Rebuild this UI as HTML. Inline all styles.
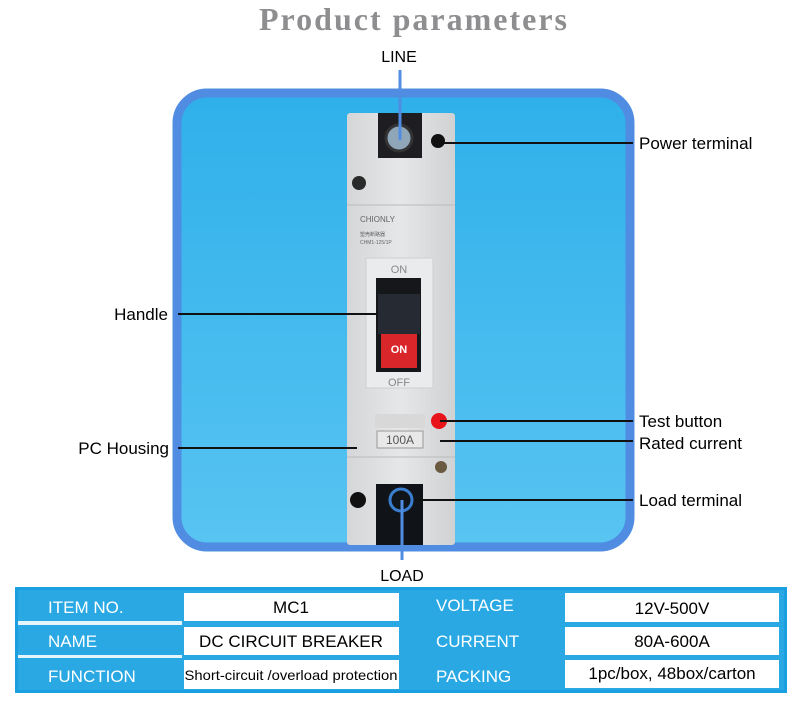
<!DOCTYPE html>
<html><head><meta charset="utf-8"><style>
body{margin:0;background:#fff;width:800px;height:696px;overflow:hidden;font-family:"Liberation Sans",sans-serif}
</style></head><body>
<svg width="800" height="696" viewBox="0 0 800 696" xmlns="http://www.w3.org/2000/svg" font-family="Liberation Sans, sans-serif">
<defs>
<linearGradient id="bg" x1="0" y1="0" x2="0" y2="1"><stop offset="0" stop-color="#2fb0ea"/><stop offset="1" stop-color="#58c4f2"/></linearGradient>
<linearGradient id="body" x1="0" y1="0" x2="1" y2="0"><stop offset="0" stop-color="#d4d6d8"/><stop offset="0.5" stop-color="#e6e7e8"/><stop offset="1" stop-color="#cfd1d3"/></linearGradient>
</defs>
<text x="414" y="30" text-anchor="middle" font-family="Liberation Serif, serif" font-weight="bold" font-size="32" fill="#8e8e90" letter-spacing="2">Product parameters</text>
<text x="399" y="62" text-anchor="middle" font-size="16" fill="#000">LINE</text>
<rect x="177" y="93" width="453" height="454" rx="30" fill="url(#bg)" stroke="#4f8ce2" stroke-width="9"/>
<rect x="347" y="113" width="108" height="432" rx="3" fill="url(#body)"/>
<rect x="378" y="113" width="44" height="45" fill="#1e1e22"/>
<circle cx="399" cy="138" r="13" fill="#8fa5b8" stroke="#333" stroke-width="3"/>
<circle cx="438" cy="141" r="7" fill="#111"/>
<circle cx="359" cy="183" r="7" fill="#2a2a2a"/>
<line x1="347" y1="205" x2="455" y2="205" stroke="#bbb" stroke-width="1"/>
<text x="360" y="222" font-size="8" fill="#666">CHIONLY</text>
<text x="360" y="236" font-size="5" fill="#666">塑壳断路器</text>
<text x="360" y="244" font-size="5" fill="#666">CHM1-125/1P</text>
<rect x="366" y="258" width="67" height="130" fill="#eaebec" stroke="#cfcfcf"/>
<text x="399" y="273" text-anchor="middle" font-size="11" fill="#888">ON</text>
<rect x="376" y="278" width="45" height="94" fill="#15171b"/>
<rect x="378" y="294" width="42" height="40" fill="#262b33"/>
<rect x="381" y="334" width="36" height="34" fill="#d8262b"/>
<text x="399" y="353" text-anchor="middle" font-size="11" font-weight="bold" fill="#fff">ON</text>
<text x="399" y="386" text-anchor="middle" font-size="11" fill="#888">OFF</text>
<rect x="375" y="414" width="50" height="14" fill="#d8d8d8"/>
<circle cx="439" cy="421" r="8" fill="#e8141a"/>
<rect x="377" y="431" width="46" height="17" fill="#e8e8e8" stroke="#999"/>
<text x="400" y="444" text-anchor="middle" font-size="12" fill="#555">100A</text>
<line x1="347" y1="457" x2="455" y2="457" stroke="#bbb"/>
<circle cx="441" cy="467" r="6" fill="#6a5a40"/>
<rect x="376" y="484" width="47" height="61" fill="#101418"/>
<circle cx="401" cy="500" r="11" fill="none" stroke="#3a7ed0" stroke-width="3"/>
<circle cx="358" cy="500" r="8" fill="#111"/>
<line x1="400" y1="70" x2="400" y2="140" stroke="#4f8ce2" stroke-width="3"/>
<line x1="402" y1="500" x2="402" y2="560" stroke="#4f8ce2" stroke-width="3"/>
<text x="402" y="581" text-anchor="middle" font-size="16" fill="#000">LOAD</text>
<g stroke="#111" stroke-width="2">
<line x1="440" y1="143" x2="633" y2="143"/>
<line x1="178" y1="314" x2="378" y2="314"/>
<line x1="440" y1="421" x2="633" y2="421"/>
<line x1="440" y1="441" x2="633" y2="441"/>
<line x1="178" y1="448" x2="357" y2="448"/>
<line x1="415" y1="500" x2="633" y2="500"/>
</g>
<g font-size="17" fill="#000">
<text x="639" y="149">Power terminal</text>
<text x="168" y="320" text-anchor="end">Handle</text>
<text x="639" y="427">Test button</text>
<text x="639" y="449">Rated current</text>
<text x="169" y="454" text-anchor="end">PC Housing</text>
<text x="639" y="506">Load terminal</text>
</g>
<rect x="15" y="587" width="772" height="106" fill="#1a9fe0"/>
<rect x="18" y="590" width="766" height="100" fill="#29a8e3"/>
<g fill="#fff">
<rect x="184" y="593" width="215" height="28"/>
<rect x="565" y="593" width="214" height="29"/>
<rect x="184" y="627" width="215" height="28"/>
<rect x="565" y="627" width="214" height="28"/>
<rect x="184" y="660" width="215" height="29"/>
<rect x="565" y="660" width="214" height="28"/>
</g>
<g fill="#e6f4fb">
<rect x="18" y="621" width="164" height="4"/>
<rect x="18" y="655" width="164" height="3"/>
</g>
<g font-size="17" fill="#fff">
<text x="48" y="613">ITEM NO.</text>
<text x="48" y="647">NAME</text>
<text x="48" y="682">FUNCTION</text>
<text x="436" y="611">VOLTAGE</text>
<text x="436" y="647">CURRENT</text>
<text x="436" y="682">PACKING</text>
</g>
<g font-size="17" fill="#000" text-anchor="middle">
<text x="291" y="613">MC1</text>
<text x="291" y="647">DC CIRCUIT BREAKER</text>
<text x="291" y="680" font-size="14" textLength="213" lengthAdjust="spacingAndGlyphs">Short-circuit /overload protection</text>
<text x="672" y="614">12V-500V</text>
<text x="672" y="647">80A-600A</text>
<text x="672" y="679">1pc/box, 48box/carton</text>
</g>
</svg>
</body></html>
